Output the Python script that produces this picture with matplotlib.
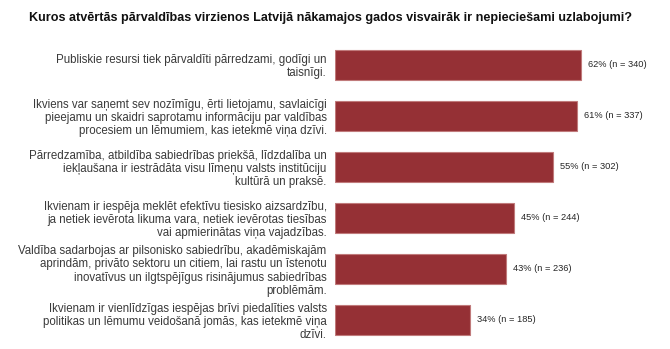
import matplotlib
matplotlib.use("Agg")
import matplotlib.pyplot as plt

title = "Kuros atvērtās pārvaldības virzienos Latvijā nākamajos gados visvairāk ir nepieciešami uzlabojumi?"
categories = [
    "Publiskie resursi tiek pārvaldīti pārredzami, godīgi un\ntaisnīgi.",
    "Ikviens var saņemt sev nozīmīgu, ērti lietojamu, savlaicīgi\npieejamu un skaidri saprotamu informāciju par valdības\nprocesiem un lēmumiem, kas ietekmē viņa dzīvi.",
    "Pārredzamība, atbildība sabiedrības priekšā, līdzdalība un\niekļaušana ir iestrādāta visu līmeņu valsts institūciju\nkultūrā un praksē.",
    "Ikvienam ir iespēja meklēt efektīvu tiesisko aizsardzību,\nja netiek ievērota likuma vara, netiek ievērotas tiesības\nvai apmierinātas viņa vajadzības.",
    "Valdība sadarbojas ar pilsonisko sabiedrību, akadēmiskajām\naprindām, privāto sektoru un citiem, lai rastu un īstenotu\ninovatīvus un ilgtspējīgus risinājumus sabiedrības\nproblēmām.",
    "Ikvienam ir vienlīdzīgas iespējas brīvi piedalīties valsts\npolitikas un lēmumu veidošanā jomās, kas ietekmē viņa\ndzīvi.",
]
percent = [62, 61, 55, 45, 43, 34]
counts = [340, 337, 302, 244, 236, 185]

plt.rcParams['font.family'] = ['Liberation Sans', 'DejaVu Sans']

fig = plt.figure(figsize=(6.7, 3.49), dpi=100)
ax = fig.add_axes([0.5, 0.01, 0.5, 0.878])

ypos = list(range(len(categories)))
ax.barh(ypos, percent, height=0.59, color='#953035', edgecolor='#c07a7b', linewidth=0.8)
for y, p, n in zip(ypos, percent, counts):
    ax.text(p + 1.8, y, f"{p}% (n = {n})", va='center', ha='left', fontsize=6.7, color='#262626')

ax.set_ylim(len(categories) - 0.5, -0.5)
ax.set_xlim(0, 84.4)
ax.set_yticks(ypos)
ax.set_yticklabels(categories, fontsize=8.3, color='#3a3a3a', linespacing=1.15, ha='right',
                   multialignment='right')
ax.tick_params(axis='y', length=0, pad=6)
ax.set_xticks([])
for s in ax.spines.values():
    s.set_visible(False)

fig.text(0.494, 0.947, title, ha='center', va='center', fontsize=9.1, fontweight='bold', color='#111111')

fig.savefig("out.png", dpi=100, facecolor='white')
